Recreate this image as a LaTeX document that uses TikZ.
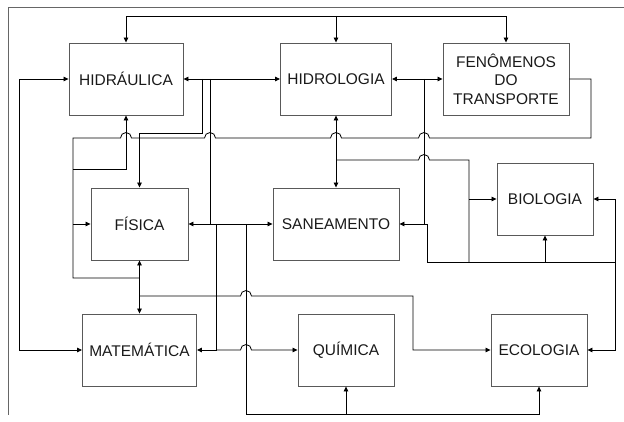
\documentclass[tikz,border=0pt]{standalone}
\usepackage{fontspec}
\setmainfont{Liberation Sans}
\usetikzlibrary{arrows.meta}
% small half-circle jump over a crossing line (drawn left to right)
\newcommand{\hop}[2]{({#1-5.5},#2) arc[start angle=180,end angle=0,radius=5.5pt]}
\begin{document}
\begin{tikzpicture}[x=1pt, y=-1pt, line width=0.8pt, line join=miter,
    box/.style={draw=black!65, line width=0.9pt, inner sep=0pt, minimum height=72pt,
      align=center, text=black!90, font=\fontsize{15.5}{18.5}\selectfont},
    tip/.style={-{Triangle[length=5pt,width=4.5pt]}},
    tips/.style={{Triangle[length=5pt,width=4.5pt]}-{Triangle[length=5pt,width=4.5pt]}}]
  \useasboundingbox (0,0) rectangle (624,422);
  \draw[black!60] (624,7) -- (8,7) -- (8,415);
  % boxes
  \node[box, minimum width=114pt] (hidr)  at (126,79)    {HIDRÁULICA};
  \node[box, minimum width=111pt] (hidro) at (336,79)    {HIDROLOGIA};
  \node[box, minimum width=126pt] (fen)   at (506,79)    {FENÔMENOS\\DO\\TRANSPORTE};
  \node[box, minimum width=97pt]  (fis)   at (139.5,224) {FÍSICA};
  \node[box, minimum width=126pt] (san)   at (336,224)   {SANEAMENTO};
  \node[box, minimum width=96pt]  (bio)   at (545,199)   {BIOLOGIA};
  \node[box, minimum width=114pt] (mat)   at (139.5,350) {MATEMÁTICA};
  \node[box, minimum width=96pt]  (qui)   at (346,350)   {QUÍMICA};
  \node[box, minimum width=96pt]  (eco)   at (539,350)   {ECOLOGIA};
  % junctions
  \coordinate (top) at (0,16);
  \coordinate (bot) at (0,414);
  \coordinate (ja) at (202,79);
  \coordinate (jb) at (210,79);
  \coordinate (jc) at (216,224);
  \coordinate (jd) at (246,224);
  \coordinate (je) at (216,350);
  \coordinate (jf) at (73,169);
  \coordinate (jg) at (73,224);
  \coordinate (jh) at (139.5,296);
  \coordinate (ji) at (336,160);
  \coordinate (jj) at (469,199);
  \coordinate (jk) at (424,79);
  \coordinate (jl) at (545,262);
  % top line
  \draw[tips] (hidr.north) -- (hidr.north |- top) -- (fen.north |- top) -- (fen.north);
  \draw[tip] (hidro.north |- top) -- (hidro.north);
  % left line
  \draw[tips] (hidr.west) -- ++(-49,0) |- (mat.west);
  % hidraulica
  \draw[tips] (hidr.east) -- (hidro.west);
  \draw[tip] (ja) |- (139.5,133) -- (fis.north);
  \draw (jb) -- (jb |- jc);
  % fisica -- saneamento
  \draw[tips] (fis.east) -- (san.west);
  \draw[tip] (jc) |- (mat.east);
  \draw[tip] (je) -- \hop{246}{350} -- (qui.west);
  \draw[tip] (jd) |- (eco.south |- bot) -- (eco.south);
  \draw[tip] (qui.south |- bot) -- (qui.south);
  % long loop
  \draw (139.5,278) -- (73,278) -- (73,138) -- \hop{126}{138} -- \hop{210}{138}
    -- \hop{336}{138} -- \hop{424}{138} -- (591,138) |- (fen.east);
  \draw[tip] (jf) -| (hidr.south);
  \draw[tip] (jg) -- (fis.west);
  \draw[tips] (fis.south) -- (mat.north);
  \draw[tip] (jh) -- \hop{246}{296} -- (413,296) |- (eco.west);
  % hidrologia
  \draw[tips] (hidro.south) -- (san.north);
  \draw (ji) -- \hop{424}{160} -- (469,160) -- (469,262);
  \draw[tip] (jj) -- (bio.west);
  \draw[tips] (hidro.east) -- (fen.west);
  \draw[tip] (jk) |- (san.east);
  \draw (424,224) -- (427,224) -- (427,262) -- (615,262);
  \draw[tip] (jl) -- (bio.south);
  \draw[tips] (bio.east) -| (615,350) -- (eco.east);
\end{tikzpicture}
\end{document}
